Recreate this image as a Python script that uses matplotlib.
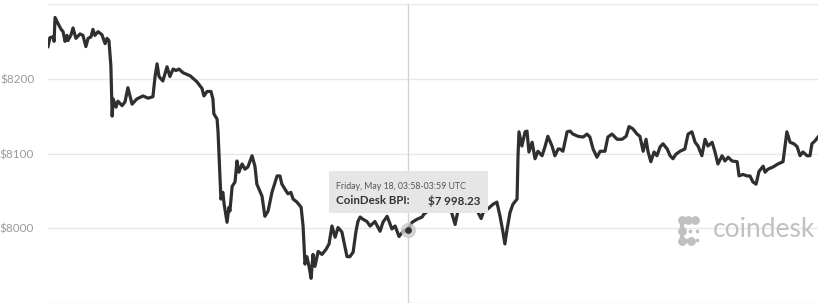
import matplotlib
matplotlib.use("Agg")
import matplotlib.pyplot as plt
from matplotlib.patches import Rectangle

# ---- data (hours since start of window, CoinDesk BPI in USD) ----
hours = [0.00,0.06,0.16,0.19,0.22,0.31,0.41,0.47,0.53,0.59,0.62,0.72,0.78,0.87,1.00,1.09,1.18,1.25,1.34,1.40,
         1.46,1.56,1.68,1.78,1.84,1.90,1.96,2.00,2.03,2.12,2.18,2.31,2.40,2.49,2.62,2.77,2.96,3.12,3.27,3.34,
         3.40,3.46,3.58,3.71,3.80,3.90,3.99,4.08,4.21,4.43,4.64,4.80,4.86,4.96,5.08,5.14,5.17,5.27,5.30,5.39,
         5.45,5.49,5.58,5.64,5.67,5.74,5.83,5.89,5.95,6.05,6.14,6.23,6.36,6.45,6.51,6.67,6.76,6.86,6.98,7.14,
         7.23,7.29,7.39,7.48,7.57,7.64,7.76,7.89,7.95,8.01,8.07,8.14,8.20,8.26,8.32,8.42,8.54,8.67,8.76,8.85,
         8.95,9.04,9.16,9.32,9.41,9.51,9.60,9.66,9.73,9.82,9.94,10.04,10.19,10.35,10.44,10.57,10.72,10.82,10.94,11.07,
         11.22,11.35,11.50,11.66,11.72,11.81,11.97,12.12,12.28,12.44,12.56,12.69,12.78,12.90,13.06,13.22,13.37,13.50,13.59,13.71,
         13.87,13.99,14.09,14.18,14.24,14.31,14.40,14.49,14.62,14.65,14.68,14.77,14.87,14.93,14.99,15.09,15.18,15.27,15.40,15.49,
         15.58,15.71,15.80,15.90,15.96,16.05,16.18,16.27,16.36,16.52,16.68,16.80,16.89,16.99,17.11,17.21,17.36,17.45,17.58,17.74,
         17.89,18.02,18.11,18.23,18.36,18.45,18.55,18.64,18.70,18.79,18.89,18.98,19.08,19.17,19.30,19.39,19.48,19.57,19.70,19.85,
         19.95,20.07,20.17,20.26,20.38,20.48,20.57,20.70,20.79,20.88,21.01,21.10,21.20,21.32,21.48,21.54,21.66,21.79,21.88,21.97,
         22.07,22.16,22.29,22.35,22.44,22.60,22.75,22.91,23.03,23.13,23.25,23.35,23.44,23.53,23.66,23.75,23.81,23.91,24.00]

price = [8243,8255,8256,8250,8282,8274,8266,8263,8250,8258,8251,8259,8268,8254,8260,8258,8243,8254,8256,8266,
         8258,8263,8259,8247,8254,8251,8217,8150,8173,8162,8170,8164,8169,8188,8166,8173,8177,8174,8176,8204,
         8220,8203,8197,8216,8203,8213,8211,8213,8208,8204,8196,8187,8177,8183,8183,8173,8153,8146,8129,8039,
         8048,8032,8008,8028,8023,8056,8062,8090,8075,8086,8079,8082,8097,8083,8059,8043,8016,8023,8048,8070,
         8070,8059,8052,8046,8048,8039,8035,8028,8003,7952,7962,7948,7933,7965,7949,7969,7965,7972,7979,8003,
         7988,8001,7995,7962,7962,7968,7996,8009,8015,8012,8009,8003,8009,7996,8008,8016,7999,8003,7989,7996,
         7998,8008,8012,8015,8019,8022,8024,8027,8024,8028,8024,8005,8024,8027,8023,8026,8024,8013,8024,8026,
         8032,8035,8016,7995,7979,7999,8021,8032,8039,8097,8129,8110,8129,8130,8102,8115,8093,8103,8097,8109,
         8123,8110,8097,8106,8106,8103,8129,8130,8126,8123,8122,8126,8122,8106,8095,8103,8103,8122,8126,8119,
         8119,8123,8136,8133,8126,8123,8103,8119,8103,8089,8102,8097,8109,8113,8106,8097,8093,8099,8103,8106,
         8126,8129,8115,8110,8097,8119,8110,8115,8102,8086,8097,8090,8095,8090,8089,8070,8072,8070,8070,8062,
         8059,8076,8083,8075,8079,8082,8086,8089,8129,8115,8113,8109,8097,8102,8097,8097,8113,8117,8122]

grid_levels = [7900, 8000, 8100, 8200, 8300]
tick_levels = [8000, 8100, 8200]
tick_labels = ["$8000", "$8100", "$8200"]

hover_hour = 11.22
hover_price = 7998.23
hover_title = "Friday, May 18, 03:58-03:59 UTC"
hover_label = "CoinDesk BPI:"
hover_value = "$7 998.23"

# ---- figure ----
fig = plt.figure(figsize=(8.22, 3.06), dpi=100)
ax = fig.add_axes([48/822, 3/306, 770/822, 299/306])
ax.set_xlim(0, 24)
ax.set_ylim(7900, 8300)
for s in ax.spines.values():
    s.set_visible(False)
ax.set_xticks([])
ax.set_yticks(tick_levels)
ax.set_yticklabels(tick_labels, fontsize=8.5, color="#9a9a9a", family="Lato")
ax.tick_params(axis="y", length=0, pad=10)

for g in grid_levels:
    ax.axhline(g, color="#e8e8e8", lw=1.0, zorder=0)

# crosshair
ax.axvline(hover_hour, color="#d2d2d2", lw=1.0, zorder=1)

# price line
ax.plot(hours, price, color="#2f2f2f", lw=2.3, solid_joinstyle="round", zorder=3)

# hover marker
ax.scatter([hover_hour], [hover_price], s=120, color="#c8c8c8", alpha=0.8, zorder=4, linewidths=0)
ax.scatter([hover_hour], [hover_price], s=24, color="#333333", zorder=5, linewidths=0)

# tooltip box
box = Rectangle((8.76, 8020), 13.71 - 8.76, 8076 - 8020, facecolor="#e6e6e6",
                edgecolor="none", zorder=6)
ax.add_patch(box)
ax.text(8.98, 8056, hover_title, fontsize=6.3, color="#555555", family="Lato",
        va="center", ha="left", zorder=7)
ax.text(8.98, 8037, hover_label, fontsize=8.3, color="#333333", family="Lato",
        fontweight="bold", va="center", ha="left", zorder=7)
ax.text(13.47, 8037, hover_value, fontsize=8.3, color="#333333", family="Lato",
        fontweight="bold", va="center", ha="right", zorder=7)

# coindesk watermark
wm = "#c0c0c0"
ax.text(0.8636, 0.245, "coindesk", transform=ax.transAxes, fontsize=19, color=wm,
        family="Lato", va="center", ha="left", zorder=2)
def tf(p):
    return ((p[0] - 48) / 770, (303 - p[1]) / 299)
big = [tf(p) for p in [(682, 220), (695, 220), (682, 241), (691, 241)]]
mid = [tf(p) for p in [(688, 220), (682, 231)]]
ax.plot([big[0][0], big[1][0]], [big[0][1], big[1][1]], color=wm, lw=3.0, transform=ax.transAxes, zorder=2)
ax.plot([big[0][0], big[2][0], big[3][0]], [big[0][1], big[2][1], big[3][1]], color=wm, lw=3.0,
        transform=ax.transAxes, zorder=2)
ax.scatter([p[0] for p in big + mid], [p[1] for p in big + mid], s=40, color=wm,
           transform=ax.transAxes, zorder=2, linewidths=0)
small = [tf(p) for p in [(690, 231), (697, 231), (697, 240)]]
ax.scatter([p[0] for p in small], [p[1] for p in small], s=7, color=wm, transform=ax.transAxes, zorder=2, linewidths=0)

fig.savefig("out.png", dpi=100, facecolor="white")
